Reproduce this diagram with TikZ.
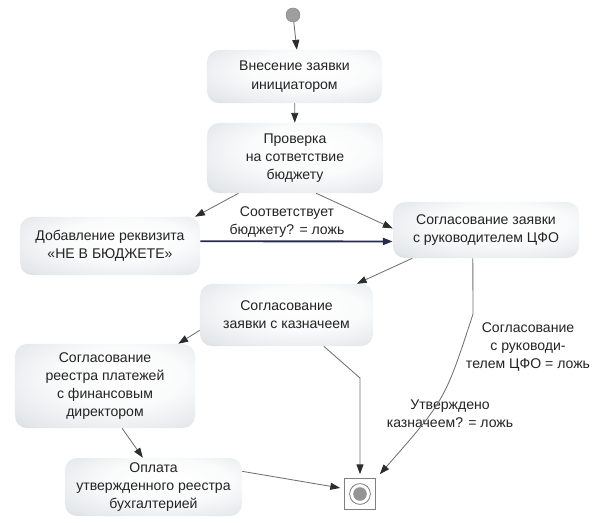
\documentclass[tikz,border=0pt]{standalone}
\usepackage{fontspec}
\setmainfont{Liberation Sans}
\usetikzlibrary{arrows.meta, calc, positioning}

\definecolor{boxgray}{RGB}{190,198,206}
\definecolor{textgray}{RGB}{35,35,35}
\definecolor{linegray}{RGB}{112,112,112}
\definecolor{tipgray}{RGB}{45,45,45}
\definecolor{navyline}{RGB}{40,42,82}
\pgfdeclareradialshading{boxshade}{\pgfpoint{6bp}{8bp}}{color(0bp)=(white); color(18bp)=(white!92!boxgray); color(34bp)=(white!60!boxgray); color(48bp)=(boxgray); color(60bp)=(boxgray)}

\begin{document}
\begin{tikzpicture}[x=0.025cm, y=-0.025cm,
  state/.style={rounded corners=8.5pt, shading=boxshade,
    align=center, text=textgray, font=\fontsize{10}{13}\selectfont, inner sep=2pt},
  guard/.style={align=center, text=textgray, font=\fontsize{10}{12.5}\selectfont},
  flow/.style={draw=linegray, line width=0.6pt,
    -{Triangle[length=7pt, width=5pt, color=tipgray]}},
  mainflow/.style={draw=navyline, line width=1.3pt,
    -{Triangle[length=7pt, width=5pt, color=navyline]}}]
  \useasboundingbox (0,0) rectangle (600,522);

  \node[circle, fill=black!38, draw=black!45, minimum size=0.35cm, inner sep=0pt] (start) at (293,15) {};
  \node[state, minimum width=4.375cm, minimum height=1.325cm] (entry) at (294.5,76.5) {Внесение заявки\\инициатором};
  \node[state, minimum width=4.4cm, minimum height=1.75cm] (check) at (295,158) {Проверка\\на сответствие\\бюджету};
  \node[state, minimum width=4.5cm, minimum height=1.45cm] (mark) at (110,246) {Добавление реквизита\\«НЕ В БЮДЖЕТЕ»};
  \node[state, minimum width=4.65cm, minimum height=1.4cm] (cfo) at (486,230) {Согласование заявки\\с руководителем ЦФО};
  \node[state, minimum width=4.325cm, minimum height=1.55cm] (treasurer) at (286.5,315) {Согласование\\заявки с казначеем};
  \node[state, minimum width=4.5cm, minimum height=2.1cm] (director) at (105,386) {Согласование\\реестра платежей\\с финансовым\\директором};
  \node[state, minimum width=4.425cm, minimum height=1.45cm] (payment) at (153.5,487) {Оплата\\утвержденного реестра\\бухгалтерией};

  \node[draw=black!50, line width=0.5pt, minimum size=0.78cm, inner sep=0pt, outer sep=3pt] (fin) at (360,494) {};
  \draw[black!50, line width=0.6pt] (fin) circle[radius=0.26cm];
  \fill[black!42] (fin) circle[radius=0.17cm];

  \node[guard] (budgetno) at (287,222) {Соответствует\\бюджету? = ложь};
  \node[guard] (cfono) at (528,347) {Согласование\\с руководи-\\телем ЦФО = ложь};
  \node[guard] (treasno) at (450,414) {Утверждено\\казначеем? = ложь};

  \coordinate (bendcfo) at (473,314);
  \coordinate (bendtreas) at (360,378);

  \draw[flow] (start) -- (entry.85);
  \draw[flow] (entry) -- (check);
  \draw[flow] (check.212) -- (mark.19);
  \draw[flow] (check.301) -- (cfo.179);
  \draw[mainflow] (mark.3) -- (cfo.187);
  \draw[flow] (cfo.201) -- (treasurer.24);
  \draw[flow] (treasurer.190) -- (director.30);
  \draw[flow] (director.292) -- (payment.110);
  \draw[flow] (payment.10) -- (fin.163);
  \draw[flow] (treasurer.320) -- (bendtreas) -- (fin.north);
  \draw[flow] (cfo.245) -- (bendcfo) .. controls (445,400) .. (fin.north east);
\end{tikzpicture}
\end{document}
